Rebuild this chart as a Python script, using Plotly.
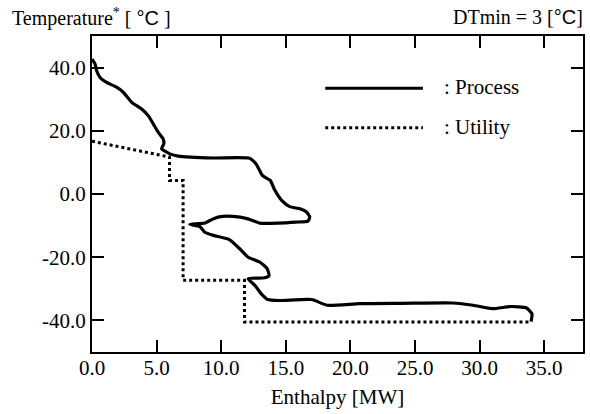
import plotly.graph_objects as go

# ---- data ----
process_h = [0.0, 0.23, 0.36, 0.62, 1.13, 1.9, 2.42, 3.07, 3.84, 4.35, 4.74, 5.13, 5.51, 5.56, 5.39,
             6.03, 6.67, 9.4, 12.2, 12.7, 13.2, 13.8, 14.1, 14.7, 15.3, 16.1, 16.6, 16.85, 16.7,
             15.8, 14.4, 13.0, 12.0, 10.9, 10.1, 9.4, 8.73, 7.57,
             8.35, 8.73, 9.4, 10.66, 11.57, 12.08, 13.0, 13.55, 13.7, 13.37, 12.08,
             12.6, 13.1, 13.6, 14.5, 17.0, 18.2, 20.7, 24.0, 27.9, 29.5, 31.0, 32.4, 33.6, 34.05, 33.98]
process_t = [42.7, 41.2, 39.0, 36.9, 35.3, 33.8, 32.2, 29.0, 26.9, 24.8, 22.2, 19.5, 17.4, 15.9, 14.3,
             12.7, 12.0, 11.4, 11.3, 9.5, 5.8, 4.3, 1.6, -2.1, -4.0, -4.7, -5.7, -7.3, -8.6,
             -8.9, -9.2, -9.2, -7.8, -7.1, -7.1, -7.8, -9.2, -9.6,
             -10.3, -12.1, -13.1, -14.5, -17.9, -20.0, -21.6, -23.6, -25.8, -26.5, -26.8,
             -28.9, -31.6, -33.4, -33.7, -33.4, -35.2, -34.7, -34.6, -34.5, -35.2, -36.3, -35.6, -36.0, -37.9, -40.4]

utility_h = [0.0, 6.0, 6.0, 7.05, 7.05, 11.8, 11.8, 34.0]
utility_t = [16.7, 11.7, 4.3, 4.3, -27.3, -27.3, -40.5, -40.5]

x_tick_vals = [0, 5, 10, 15, 20, 25, 30, 35]
x_tick_text = ["0.0", "5.0", "10.0", "15.0", "20.0", "25.0", "30.0", "35.0"]
y_tick_vals = [40, 20, 0, -20, -40]
y_tick_text = ["40.0", "20.0", "0.0", "-20.0", "-40.0"]

SERIF = "Liberation Serif"
SANS = "Liberation Sans"

fig = go.Figure()
fig.add_trace(go.Scatter(x=utility_h, y=utility_t, mode="lines",
                         line=dict(color="black", width=3, dash="dot"), showlegend=False))
fig.add_trace(go.Scatter(x=process_h, y=process_t, mode="lines",
                         line=dict(color="black", width=3.2, shape="spline", smoothing=0.5),
                         showlegend=False))

axis_common = dict(showline=True, linecolor="black", linewidth=2, mirror="ticks",
                   ticks="inside", ticklen=12, tickwidth=2, tickcolor="black",
                   showgrid=False, zeroline=False, automargin=False,
                   tickfont=dict(family=SERIF, size=21, color="black"))

fig.update_layout(
    width=590, height=414,
    margin=dict(l=92, r=7, t=36, b=62),
    paper_bgcolor="white", plot_bgcolor="white",
    xaxis=dict(range=[0, 38], tickvals=x_tick_vals, ticktext=x_tick_text, ticklabelstandoff=-4,
               title=dict(text="Enthalpy [MW]", font=dict(family=SERIF, size=21, color="black"),
                          standoff=10),
               **axis_common),
    yaxis=dict(range=[-50, 50], tickvals=y_tick_vals, ticktext=y_tick_text, **axis_common),
    showlegend=False,
)

# manual legend (line samples + labels)
fig.add_shape(type="line", xref="paper", yref="paper", x0=0.475, x1=0.674, y0=0.835, y1=0.835,
              line=dict(color="black", width=3))
fig.add_shape(type="line", xref="paper", yref="paper", x0=0.475, x1=0.674, y0=0.71, y1=0.71,
              line=dict(color="black", width=3, dash="dot"))
fig.add_annotation(xref="paper", yref="paper", x=0.712, y=0.838, xanchor="left", yanchor="middle",
                   text=": Process", showarrow=False, font=dict(family=SERIF, size=21, color="black"))
fig.add_annotation(xref="paper", yref="paper", x=0.712, y=0.713, xanchor="left", yanchor="middle",
                   text=": Utility", showarrow=False, font=dict(family=SERIF, size=21, color="black"))

# titles
fig.add_annotation(xref="paper", yref="paper", x=-0.168, y=1.06, xanchor="left", yanchor="middle",
                   text="Temperature<sup>*</sup> [ <span style='font-family:" + SANS + "'>°C</span> ]",
                   showarrow=False, font=dict(family=SERIF, size=20, color="black"))
fig.add_annotation(xref="paper", yref="paper", x=1.004, y=1.06, xanchor="right", yanchor="middle",
                   text="DTmin = 3 [<span style='font-family:" + SANS + "'>°C</span>]",
                   showarrow=False, font=dict(family=SERIF, size=20, color="black"))

fig.write_html("out.html", config={"displayModeBar": False},
               post_script="document.body.style.margin='0';document.body.style.overflow='hidden';")
